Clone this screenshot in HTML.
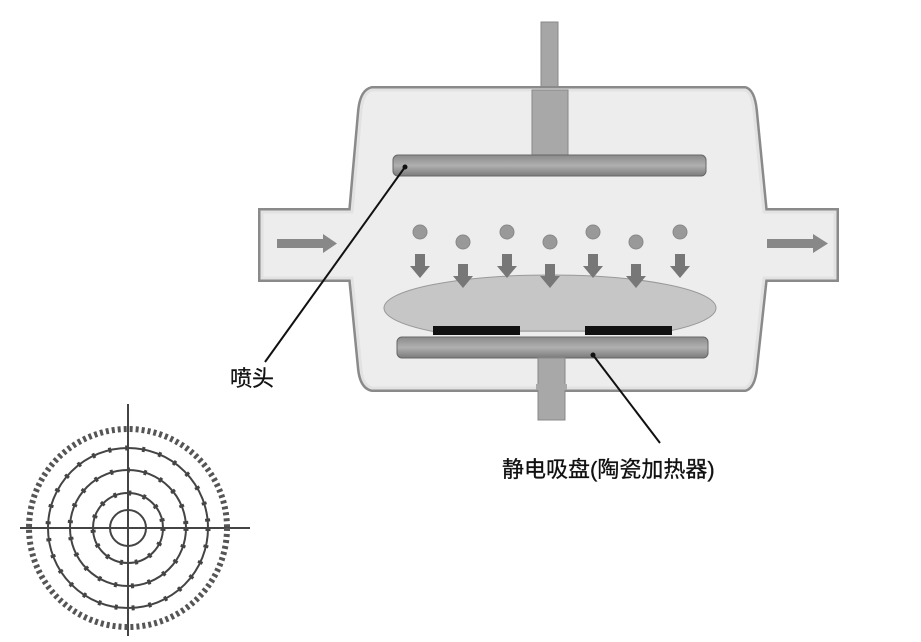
<!DOCTYPE html>
<html><head><meta charset="utf-8"><style>
html,body{margin:0;padding:0;background:#fff;}
svg{display:block;}
text{font-family:"Liberation Sans","Noto Sans CJK SC",sans-serif;}
</style></head><body>
<svg width="921" height="642" viewBox="0 0 921 642" xmlns="http://www.w3.org/2000/svg">
<defs>
<linearGradient id="pl" x1="0" y1="0" x2="0" y2="1"><stop offset="0" stop-color="#8a8a8a"/><stop offset="0.5" stop-color="#b0b0b0"/><stop offset="1" stop-color="#7a7a7a"/></linearGradient>
<g id="arr"><rect x="-5" y="0" width="10" height="14" fill="#777"/><polygon points="-10,12 10,12 0,24" fill="#777"/></g>
</defs>
<rect x="541" y="22" width="17" height="72" fill="#a6a6a6" stroke="#888" stroke-width="1"/>
<path d="M372,90 L745,90 Q752,92 754,110 L764,212 L835,212 L835,278 L764,278 L754,370 Q752,386 745,388 L372,388 Q363,386 361,370 L352,278 L262,278 L262,212 L352,212 L361,110 Q363,92 372,90 Z" fill="#ededed" stroke="#8a8a8a" stroke-width="8"/>
<path d="M372,90 L745,90 Q752,92 754,110 L764,212 L835,212 L835,278 L764,278 L754,370 Q752,386 745,388 L372,388 Q363,386 361,370 L352,278 L262,278 L262,212 L352,212 L361,110 Q363,92 372,90 Z" fill="#ededed" stroke="#e2e2e2" stroke-width="3"/>
<rect x="532" y="90" width="36" height="68" fill="#a8a8a8" stroke="#888"/>
<rect x="393" y="155" width="313" height="21" rx="5" fill="url(#pl)" stroke="#666"/>
<rect x="277" y="239" width="48" height="9" fill="#888"/><polygon points="323,234 337,243.5 323,253" fill="#888"/>
<rect x="767" y="239" width="48" height="9" fill="#888"/><polygon points="813,234 828,243.5 813,253" fill="#888"/>
<g fill="#999" stroke="#888">
<circle cx="420" cy="232" r="7"/><circle cx="463" cy="242" r="7"/><circle cx="507" cy="232" r="7"/><circle cx="550" cy="242" r="7"/><circle cx="593" cy="232" r="7"/><circle cx="636" cy="242" r="7"/><circle cx="680" cy="232" r="7"/>
</g>
<ellipse cx="550" cy="308" rx="166" ry="33" fill="#c6c6c6" stroke="#999"/>
<use href="#arr" x="420" y="254"/><use href="#arr" x="463" y="264"/><use href="#arr" x="507" y="254"/><use href="#arr" x="550" y="264"/><use href="#arr" x="593" y="254"/><use href="#arr" x="636" y="264"/><use href="#arr" x="680" y="254"/>
<rect x="425" y="332" width="250" height="6" fill="#ededed"/>
<line x1="520" y1="331" x2="585" y2="331" stroke="#999"/>
<rect x="433" y="326" width="87" height="9" fill="#111"/>
<rect x="585" y="326" width="87" height="9" fill="#111"/>
<rect x="397" y="337" width="311" height="21" rx="5" fill="url(#pl)" stroke="#666"/>
<rect x="538" y="358" width="27" height="62" fill="#a8a8a8" stroke="#888"/>
<rect x="536" y="384" width="31" height="6" fill="#a8a8a8"/>
<line x1="405" y1="167" x2="265" y2="362" stroke="#111" stroke-width="2"/>
<circle cx="405" cy="167" r="2.5" fill="#111"/>
<line x1="593" y1="355" x2="660" y2="443" stroke="#111" stroke-width="2"/>
<circle cx="593" cy="355" r="2.5" fill="#111"/>
<text x="230" y="386" font-size="22" fill="#111" stroke="#111" stroke-width="0.3">喷头</text>
<text x="502" y="477" font-size="22" fill="#111" stroke="#111" stroke-width="0.3">静电吸盘(陶瓷加热器)</text>
<g fill="none" stroke="#444">
<line x1="20" y1="528" x2="250" y2="528" stroke-width="2"/>
<line x1="128" y1="404" x2="128" y2="636" stroke-width="2"/>
<circle cx="128" cy="528" r="99" stroke-width="6" stroke="#555" stroke-dasharray="3 3"/>
<circle cx="128" cy="528" r="80" stroke-width="2"/>
<circle cx="128" cy="528" r="58" stroke-width="2"/>
<circle cx="128" cy="528" r="35" stroke-width="2"/>
<circle cx="128" cy="528" r="18" stroke-width="2"/>
<circle cx="128" cy="528" r="80" stroke-width="5" stroke-dasharray="3 14"/>
<circle cx="128" cy="528" r="58" stroke-width="5" stroke-dasharray="3 14"/>
<circle cx="128" cy="528" r="35" stroke-width="5" stroke-dasharray="3 12"/>
</g>
</svg>
</body></html>
